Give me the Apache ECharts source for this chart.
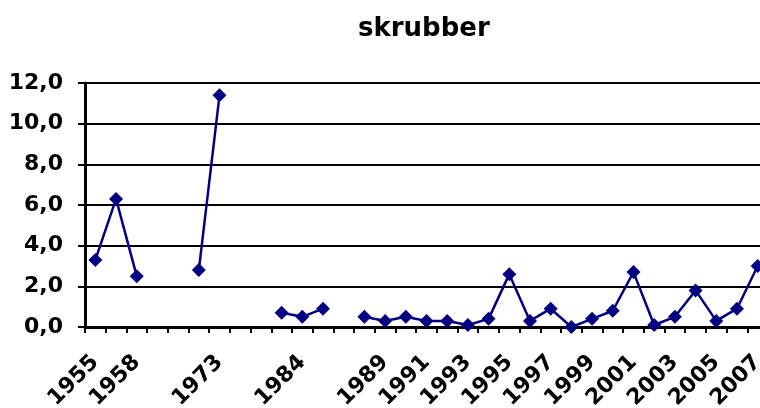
<!DOCTYPE html>
<html>
<head>
<meta charset="utf-8">
<script src="https://cdn.jsdelivr.net/npm/echarts@6/dist/echarts.min.js"></script>
<style>
  html, body { margin: 0; padding: 0; background: #ffffff; }
  #chart { width: 760px; height: 408px; }
</style>
</head>
<body>
<div id="chart"></div>
<script>
// Years on the category axis; blank entries separate the gaps in the record.
var years = [
  '1955', '1957', '1958', '', '', '1972', '1973', '', '', '1983', '1984', '1985', '', '1988',
  '1989', '1990', '1991', '1992', '1993', '1994', '1995', '1996', '1997', '1998',
  '1999', '2000', '2001', '2002', '2003', '2004', '2005', '2006', '2007'
];

// Catch per year (null where no value exists).
var skrubber = [
  3.3, 6.3, 2.5, null, null, 2.8, 11.4, null, null, 0.7, 0.5, 0.9, null, 0.5,
  0.3, 0.5, 0.3, 0.3, 0.1, 0.4, 2.6, 0.3, 0.9, 0.0,
  0.4, 0.8, 2.7, 0.1, 0.5, 1.8, 0.3, 0.9, 3.0
];

// Value axis range and step.
var yMin = 0, yMax = 12, yStep = 2;

var font = 'DejaVu Sans';

var chart = echarts.init(document.getElementById('chart'), null, { renderer: 'canvas' });

chart.setOption({
  animation: false,
  backgroundColor: '#ffffff',
  title: {
    text: 'skrubber',
    left: 358,
    top: 16,
    padding: 0,
    textStyle: { fontFamily: font, fontWeight: 'bold', fontSize: 26, color: '#000000' }
  },
  grid: {
    left: 85,
    right: -8,
    top: 83,
    bottom: 81,
    containLabel: false,
    outerBoundsMode: 'none'
  },
  xAxis: {
    type: 'category',
    data: years,
    boundaryGap: true,
    axisLine: { show: true, lineStyle: { color: '#000000', width: 3 } },
    axisTick: {
      show: true,
      interval: 0,
      length: 6,
      alignWithLabel: false,
      lineStyle: { color: '#000000', width: 2 }
    },
    axisLabel: {
      interval: 1,
      rotate: 45,
      margin: 32,
      color: '#000000',
      fontFamily: font,
      fontWeight: 'bold',
      fontSize: 22
    },
    splitLine: { show: false }
  },
  yAxis: {
    type: 'value',
    min: yMin,
    max: yMax,
    interval: yStep,
    axisLine: { show: true, lineStyle: { color: '#000000', width: 3 } },
    axisTick: { show: true, length: 7, lineStyle: { color: '#000000', width: 2 } },
    axisLabel: {
      margin: 22,
      color: '#000000',
      fontFamily: font,
      fontWeight: 'bold',
      fontSize: 22,
      formatter: function (v) { return v.toFixed(1).replace('.', ','); }
    },
    splitLine: { show: true, lineStyle: { color: '#000000', width: 2 } }
  },
  series: [{
    name: 'skrubber',
    type: 'line',
    data: skrubber,
    connectNulls: false,
    symbol: 'diamond',
    symbolSize: 14,
    showSymbol: true,
    showAllSymbol: true,
    lineStyle: { color: '#000080', width: 2.5 },
    itemStyle: { color: '#000080' },
    z: 3
  }]
});
</script>
</body>
</html>
